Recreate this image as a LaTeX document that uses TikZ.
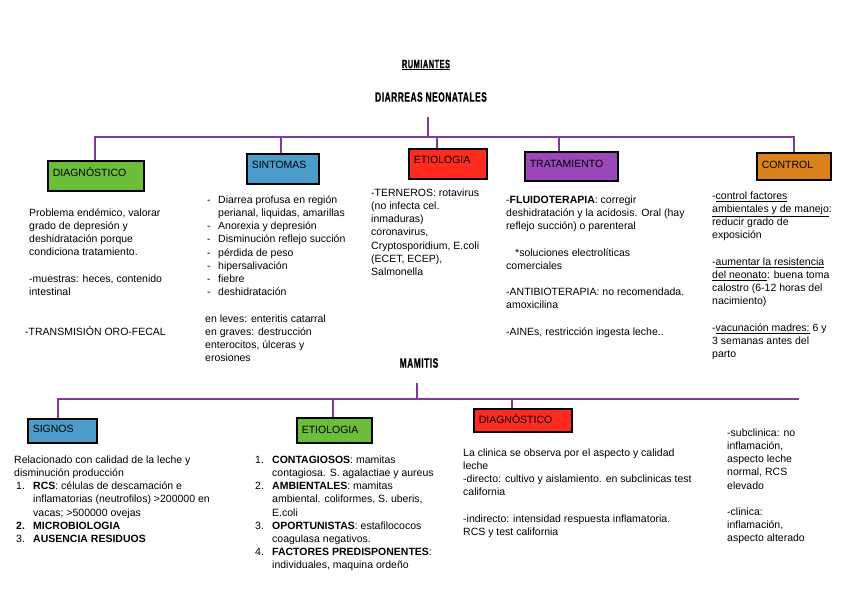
\documentclass[tikz,border=0pt]{standalone}
\usepackage{fontspec}
\setmainfont{Liberation Sans}
\newfontfamily\condfont[FakeStretch=0.62, LetterSpace=4, FakeBold=0.8]{Liberation Sans Bold}
\definecolor{busc}{HTML}{7D3C98}
\definecolor{cgreen}{HTML}{6CBD3A}
\definecolor{cblue}{HTML}{4B9CCB}
\definecolor{cred}{HTML}{FF2B1E}
\definecolor{cpurple}{HTML}{9A47B8}
\definecolor{corange}{HTML}{DA8219}
\newcommand\catlabel[3]{\raisebox{#2}[0pt][0pt]{\makebox[#1][l]{#3}}}
\newcommand\itm[1]{\makebox[11pt][l]{-}#1}
\newcommand\cont{\hspace*{11pt}}
\newcommand\num[1]{\makebox[17pt][l]{#1}}
\newcommand\ncont{\hspace*{17pt}}
\tikzset{
  bus/.style={draw=busc, line width=2pt},
  cat/.style={draw=black, line width=1.6pt, anchor=north west, inner sep=0pt,
    font=\fontsize{10.5}{12}\selectfont},
  txt/.style={anchor=north west, align=left, inner sep=0pt,
    font=\fontsize{10.5}{13.2}\selectfont, execute at begin node=\strut},
  ttl/.style={inner sep=0pt, font=\condfont\fontsize{13.5}{15}\selectfont}
}
\begin{document}
\begin{tikzpicture}[x=1pt,y=-1pt]
\useasboundingbox (0,0) rectangle (848,599);
\fill[white] (0,0) rectangle (848,599);

% ---------- DIARREAS NEONATALES ----------
\node[ttl, font=\condfont\fontsize{12}{14}\selectfont] (rum) at (426,65) {\underline{RUMIANTES}};
\node[ttl] (dn) at (431,97) {DIARREAS NEONATALES};

\node[cat, fill=cgreen, minimum width=96, minimum height=30] (dg) at (47,160) {\catlabel{86pt}{-0.5pt}{DIAGNÓSTICO}};
\node[cat, fill=cblue, minimum width=72, minimum height=30] (sn) at (246,153) {\catlabel{62pt}{0pt}{SINTOMAS}};
\node[cat, fill=cred, minimum width=78, minimum height=30] (et) at (408,148) {\catlabel{68pt}{0pt}{ETIOLOGIA}};
\node[cat, fill=cpurple, minimum width=93, minimum height=29] (tr) at (524,151) {\catlabel{83pt}{-1pt}{TRATAMIENTO}};
\node[cat, fill=corange, minimum width=74, minimum height=27] (ct) at (756,152) {\catlabel{64pt}{-2.5pt}{CONTROL}};

\coordinate (t1) at (428,117);
\coordinate (b0) at (428,137);
\coordinate (b1) at (95,137);
\coordinate (b2) at (281,137);
\coordinate (b3) at (437,137);
\coordinate (b4) at (559,137);
\coordinate (b5) at (794,137);
\draw[bus] (t1) -- (b0);
\draw[bus] (b1 |- dg.north) -- (b1) -- (b5) -- (b5 |- ct.north);
\draw[bus] (b2) -- (b2 |- sn.north);
\draw[bus] (b3) -- (b3 |- et.north);
\draw[bus] (b4) -- (b4 |- tr.north);

\node[txt] (dgt) at (29,208.4) {Problema endémico, valorar\\grado de depresión y\\deshidratación porque\\condiciona tratamiento.\\~\\-muestras: heces, contenido\\intestinal\\~\\~\\\hspace*{-4pt}-TRANSMISIÓN ORO-FECAL};

\node[txt] (snt) at (205,195.4) {\hspace*{2pt}\itm{Diarrea profusa en región}\\\hspace*{2pt}\cont perianal, liquidas, amarillas\\\hspace*{2pt}\itm{Anorexia y depresión}\\\hspace*{2pt}\itm{Disminución reflejo succión}\\\hspace*{2pt}\itm{pérdida de peso}\\\hspace*{2pt}\itm{hipersalivación}\\\hspace*{2pt}\itm{fiebre}\\\hspace*{2pt}\itm{deshidratación}\\~\\en leves: enteritis catarral\\en graves: destrucción\\enterocitos, úlceras y\\erosiones};

\node[txt] (ett) at (371,188.4) {-TERNEROS: rotavirus\\(no infecta cel.\\inmaduras)\\coronavirus,\\Cryptosporidium, E.coli\\(ECET, ECEP),\\Salmonella};

\node[txt] (trt) at (506,195.4) {-\textbf{FLUIDOTERAPIA}: corregir\\deshidratación  y la acidosis. Oral (hay\\reflejo succión) o parenteral\\~\\\hspace*{9pt}*soluciones electrolíticas\\comerciales\\~\\-ANTIBIOTERAPIA: no recomendada.\\amoxicilina\\~\\-AINEs, restricción ingesta leche..};

\node[txt] (ctt) at (712,191.4) {-\underline{control factores}\\\underline{ambientales y de manejo}:\\reducir grado de\\exposición\\~\\-\underline{aumentar la resistencia}\\\underline{del neonato}:  buena toma\\calostro (6-12 horas del\\nacimiento)\\~\\-\underline{vacunación madres:} 6 y\\3 semanas antes del\\parto};

% ---------- MAMITIS ----------
\node[ttl] (mam) at (419,363) {MAMITIS};

\node[cat, fill=cblue, minimum width=69, minimum height=24] (sg) at (27,418) {\catlabel{59pt}{-2pt}{SIGNOS}};
\node[cat, fill=cgreen, minimum width=75, minimum height=25] (em) at (296,417) {\catlabel{65pt}{-3pt}{ETIOLOGIA}};
\node[cat, fill=cred, minimum width=98, minimum height=23] (dm) at (473,408) {\catlabel{88pt}{-3.5pt}{DIAGNÓSTICO}};

\coordinate (m0) at (417,383);
\coordinate (m1) at (417,399);
\coordinate (ml) at (58,399);
\coordinate (mr) at (799,399);
\coordinate (m2) at (333,399);
\coordinate (m3) at (512,399);
\draw[bus] (m0) -- (m1);
\draw[bus] (ml |- sg.north) -- (ml) -- (mr);
\draw[bus] (m2) -- (m2 |- em.north);
\draw[bus] (m3) -- (m3 |- dm.north);

\node[txt] (sgt) at (14,455.4) {Relacionado con calidad de la leche y\\disminución producción\\\hspace*{2pt}\num{1.}\textbf{RCS}: células de descamación e\\\hspace*{2pt}\ncont inflamatorias (neutrofilos) >200000 en\\\hspace*{2pt}\ncont vacas; >500000 ovejas\\\hspace*{2pt}\textbf{\num{2.}MICROBIOLOGIA}\\\hspace*{2pt}\num{3.}\textbf{AUSENCIA RESIDUOS}};

\node[txt] (emt) at (255,455.4) {\num{1.}\textbf{CONTAGIOSOS}: mamitas\\\ncont contagiosa. S. agalactiae y aureus\\\num{2.}\textbf{AMBIENTALES}: mamitas\\\ncont ambiental. coliformes, S. uberis,\\\ncont E.coli\\\num{3.}\textbf{OPORTUNISTAS}: estafilococos\\\ncont coagulasa negativos.\\\num{4.}\textbf{FACTORES PREDISPONENTES}:\\\ncont individuales, maquina ordeño};

\node[txt] (dmt) at (463,448.4) {La clinica se observa por el aspecto y calidad\\leche\\-directo: cultivo y aislamiento. en subclinicas test\\california\\~\\-indirecto: intensidad respuesta inflamatoria.\\RCS y test california};

\node[txt] (rct) at (727,428.4) {-subclinica: no\\inflamación,\\aspecto leche\\normal, RCS\\elevado\\~\\-clinica:\\inflamación,\\aspecto alterado};
\end{tikzpicture}
\end{document}
